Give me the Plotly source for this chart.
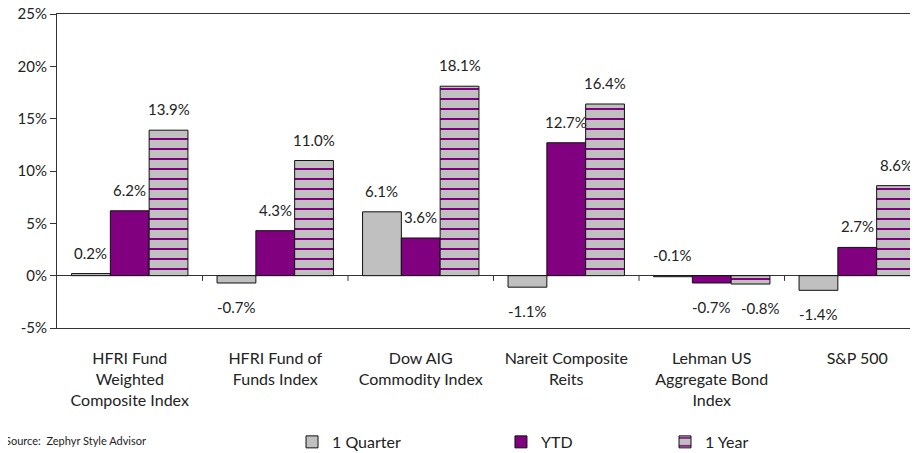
import plotly.graph_objects as go

categories = ["HFRI Fund<br>Weighted<br>Composite Index", "HFRI Fund of<br>Funds Index",
              "Dow AIG<br>Commodity Index", "Nareit Composite<br>Reits",
              "Lehman US<br>Aggregate Bond<br>Index", "S&P 500"]
series_names = ["1 Quarter", "YTD", "1 Year"]
quarter = [0.2, -0.7, 6.1, -1.1, -0.1, -1.4]
ytd = [6.2, 4.3, 3.6, 12.7, -0.7, 2.7]
one_year = [13.9, 11.0, 18.1, 16.4, -0.8, 8.6]
y_ticks = [-5, 0, 5, 10, 15, 20, 25]
y_tick_text = ["-5%", "0%", "5%", "10%", "15%", "20%", "25%"]
source_text = "Source:  Zephyr Style Advisor"

FONT = "Lato"
TXT = "#222222"
GRAY = "#C0C0C0"
PURPLE = "#800080"

x_idx = list(range(len(categories)))
values = [quarter, ytd, one_year]

fig = go.Figure()
fig.add_trace(go.Bar(x=x_idx, y=quarter, name=series_names[0],
                     marker=dict(color=GRAY, line=dict(color="#111111", width=1)),
                     legend="legend", showlegend=True))
fig.add_trace(go.Bar(x=x_idx, y=ytd, name=series_names[1],
                     marker=dict(color=PURPLE, line=dict(color="#111111", width=1)),
                     legend="legend2", showlegend=True))
fig.add_trace(go.Bar(x=x_idx, y=one_year, name=series_names[2],
                     marker=dict(color=GRAY, line=dict(color="#111111", width=1),
                                 pattern=dict(shape="-", fgcolor=PURPLE, bgcolor=GRAY,
                                              size=10, solidity=0.2, fillmode="replace")),
                     legend="legend3", showlegend=True))

bargap = 0.2
bw = (1 - bargap) / 3
# extra horizontal nudge (px) for labels that would collide: (series, category) -> px
label_nudge = {(2, 4): 10}
annotations = []
for i, vals in enumerate(values):
    for j, v in enumerate(vals):
        above = v >= 0 or abs(v) < 0.5
        annotations.append(dict(
            x=j + (i - 1) * bw, y=max(v, 0) if above else v, xref="x", yref="y",
            text=f"{v:.1f}%", showarrow=False,
            xshift=label_nudge.get((i, j), 0),
            yanchor="bottom" if above else "top",
            yshift=10 if above else -13,
            font=dict(family=FONT, size=15, color=TXT)))

annotations.append(dict(x=-0.0621, y=-0.357, xref="paper", yref="paper",
                        xanchor="left", yanchor="middle", showarrow=False,
                        text=source_text, font=dict(family=FONT, size=11, color=TXT)))

shapes = []
for j in range(len(categories)):
    shapes.append(dict(type="line", xref="x", yref="y", x0=j + 0.5, x1=j + 0.5,
                       y0=0, y1=-0.5, line=dict(color="#333333", width=1)))

legend_common = dict(orientation="h", yanchor="middle", xanchor="left",
                     xref="container", yref="container", y=0.042,
                     bgcolor="rgba(0,0,0,0)", font=dict(family=FONT, size=16, color=TXT),
                     itemwidth=30, tracegroupgap=0)

fig.update_layout(
    width=918, height=453,
    margin=dict(l=49, r=0, t=6, b=133, autoexpand=False),
    paper_bgcolor="white", plot_bgcolor="white",
    showlegend=True,
    barmode="group", bargap=bargap, bargroupgap=0,
    font=dict(family=FONT, size=15, color=TXT),
    xaxis=dict(range=[-0.5, 5.4725], tickvals=x_idx, ticktext=categories,
               showline=True, linecolor="#333333", linewidth=1, mirror=True,
               ticks="", showgrid=False, zeroline=False, automargin=False,
               ticklabeloverflow="allow",
               tickfont=dict(family=FONT, size=16, color=TXT), ticklabelstandoff=16),
    yaxis=dict(range=[-5, 25], tickvals=y_ticks, ticktext=y_tick_text,
               showline=True, linecolor="#333333", linewidth=1, automargin=False,
               ticks="outside", ticklen=6, tickcolor="#333333", ticklabeloverflow="allow",
               showgrid=False, zeroline=True, zerolinecolor="#333333", zerolinewidth=1,
               tickfont=dict(family=FONT, size=15, color=TXT)),
    legend=dict(x=0.3094, **legend_common),
    legend2=dict(x=0.537, **legend_common),
    legend3=dict(x=0.7157, **legend_common),
    annotations=annotations,
    shapes=shapes,
)

fig.write_html("out.html")
